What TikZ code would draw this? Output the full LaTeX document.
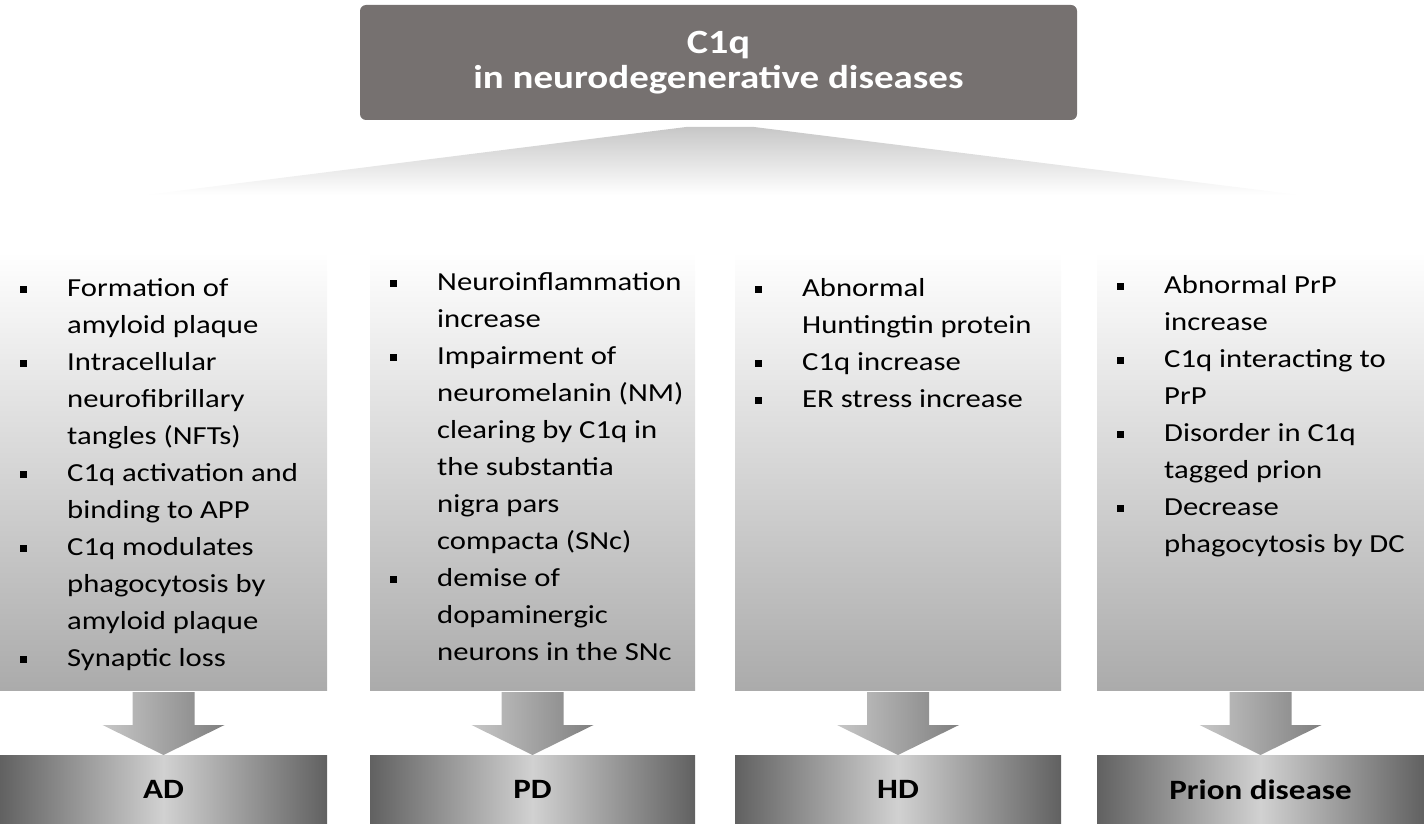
\documentclass[tikz,border=0pt]{standalone}
\usepackage{fontspec}
\setmainfont{Carlito}[FakeStretch=1.18]
\usetikzlibrary{positioning}
\definecolor{titlegray}{HTML}{767170}
\newcommand{\bul}{\llap{\rule[3pt]{7pt}{7pt}\hspace{40pt}}}
\tikzset{
  listbox/.style={shading=axis, top color=white, bottom color=black!33, draw=none},
  listtext/.style={anchor=north west, inner sep=0pt, align=left,
    font=\fontsize{26}{37}\selectfont},
  diseasebox/.style={left color=black!62, right color=black!62, middle color=black!18, draw=none,
    font=\fontsize{28}{30}\selectfont\bfseries},
  downarrow/.style={left color=black!22, right color=black!50, draw=none}
}
\begin{document}
\begin{tikzpicture}[x=1pt,y=-1pt]
  \useasboundingbox (0,0) rectangle (1424,824);
  % title and fan
  \shade[top color=black!22, bottom color=white] (686,127) -- (754,127) -- (1300,195) -- (145,195) -- cycle;
  \node[fill=titlegray, rounded corners=6pt, minimum width=717pt, minimum height=115pt,
    text=white, align=center, font=\bfseries] (title) at (718.5,62.5)
    {{\fontsize{34}{44}\selectfont C1q}\\[6pt]{\fontsize{33}{46}\selectfont in neurodegenerative diseases}};
  % columns
  \foreach \name/\xa/\xb in {ad/0/327, pd/370/695, hd/735/1061, pr/1097/1424}{
    \path[listbox] (\xa,252) rectangle (\xb,690);
    \coordinate (\name txt) at (\xa+67,273);
    \pgfmathsetmacro{\xm}{(\xa+\xb)/2}
    \path[downarrow] (\xm-31,692) -- (\xm+31,692) -- (\xm+31,725) -- (\xm+61,725)
      -- (\xm,755) -- (\xm-61,725) -- (\xm-31,725) -- cycle;
    \node[diseasebox, minimum width={\xb-\xa}, minimum height=69pt, inner sep=0pt,
      anchor=north] (\name) at (\xm,755) {};
  }
  \node[font=\fontsize{28}{30}\selectfont\bfseries] at (ad) {AD};
  \node[font=\fontsize{28}{30}\selectfont\bfseries] at (pd) {PD};
  \node[font=\fontsize{28}{30}\selectfont\bfseries] at (hd) {HD};
  \node[font=\fontsize{28}{30}\selectfont\bfseries] at (pr) {Prion disease};
  % lists
  \node[listtext] (adlist) at ([yshift=-5pt]adtxt) {\bul Formation of\\ amyloid plaque\\ \bul Intracellular\\
    neurofibrillary\\ tangles (NFTs)\\ \bul C1q activation and\\ binding to APP\\
    \bul C1q modulates\\ phagocytosis by\\ amyloid plaque\\ \bul Synaptic loss};
  \node[listtext] (pdlist) at ([yshift=1pt]pdtxt) {\bul Neuroinflammation\\ increase\\
    \bul Impairment of\\ neuromelanin (NM)\\ clearing by C1q in\\ the substantia\\
    nigra pars\\ compacta (SNc)\\ \bul demise of\\ dopaminergic\\ neurons in the SNc};
  \node[listtext] (hdlist) at ([yshift=-5pt]hdtxt) {\bul Abnormal\\ Huntingtin protein\\
    \bul C1q increase\\ \bul ER stress increase};
  \node[listtext] (prlist) at ([yshift=-2pt]prtxt) {\bul Abnormal PrP\\ increase\\
    \bul C1q interacting to\\ PrP\\ \bul Disorder in C1q\\ tagged prion\\
    \bul Decrease\\ phagocytosis by DC};
\end{tikzpicture}
\end{document}
